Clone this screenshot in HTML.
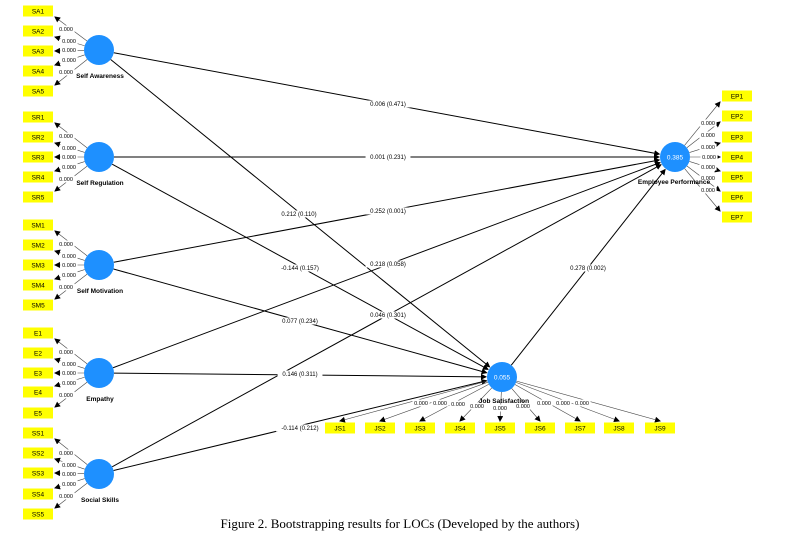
<!DOCTYPE html>
<html><head><meta charset="utf-8"><style>
html,body{margin:0;padding:0;background:#fff;width:809px;height:537px;overflow:hidden}
svg{display:block}
text{font-family:"Liberation Sans",sans-serif}
</style></head><body>
<svg id="s" width="809" height="537" viewBox="0 0 809 537" xmlns="http://www.w3.org/2000/svg">
<defs><marker id="a" markerWidth="6" markerHeight="6" refX="5" refY="3" orient="auto" markerUnits="userSpaceOnUse"><path d="M0,0 L6,3 L0,6 z" fill="#000"/></marker></defs>
<g id="g"></g>
<text x="400" y="528" text-anchor="middle" style="font-family:'Liberation Serif',serif;font-size:13px">Figure 2. Bootstrapping results for LOCs (Developed by the authors)</text>
</svg>
<script>
var g=document.getElementById('g'),h='';
function line(x1,y1,x2,y2,w,c,arrow){h+='<line x1="'+x1+'" y1="'+y1+'" x2="'+x2+'" y2="'+y2+'" stroke="'+c+'" stroke-width="'+w+'"'+(arrow?' marker-end="url(#a)"':'')+'/>';}
function txt(x,y,t,s,anc,col,b){h+='<text x="'+x+'" y="'+y+'" font-size="'+s+'" text-anchor="'+(anc||'middle')+'" fill="'+(col||'#000')+'"'+(b?' font-weight="bold"':'')+'>'+t+'</text>';}
function lab(x,y,t,s){s=s||6.5;var w=t.length*s*0.55+2;h+='<rect x="'+(x-w/2)+'" y="'+(y-3.5)+'" width="'+w+'" height="7" fill="#fff"/>';txt(x,y+2.2,t,s);}
function box(cx,cy,t,w){w=w||30;h+='<rect x="'+(cx-w/2)+'" y="'+(cy-5.5)+'" width="'+w+'" height="11" fill="#ffff00"/>';txt(cx,cy+2.5,t,6.5);}
var C=[[99,50,'Self Awareness','SA'],[99,157,'Self Regulation','SR'],[99,265,'Self Motivation','SM'],[99,373,'Empathy','E'],[99,474,'Social Skills','SS']];
var ys=[[11,31,51,71,91],[117,137,157,177,197],[225,245,265,285,305],[333,353,373,392,413],[433,453,473,494,514]];
var EP=[675,157],JS=[502,377],R=15;
function edge(a,b){var dx=b[0]-a[0],dy=b[1]-a[1],d=Math.hypot(dx,dy);line(a[0]+dx/d*R,a[1]+dy/d*R,b[0]-dx/d*(R+1),b[1]-dy/d*(R+1),1,'#000',1);}
var paths=[[0,EP,'0.006 (0.471)',388,104],[0,JS,'0.212 (0.110)',299,214],[1,EP,'0.001 (0.231)',388,157],[1,JS,'-0.144 (0.157)',300,268],[2,EP,'0.252 (0.001)',388,211],[2,JS,'0.077 (0.234)',300,321],[3,EP,'0.218 (0.058)',388,264],[3,JS,'0.146 (0.311)',300,374],[4,EP,'0.046 (0.301)',388,315],[4,JS,'-0.114 (0.212)',300,428]];
paths.forEach(function(p){edge(C[p[0]],p[1]);});
edge(JS,EP);
C.forEach(function(c,i){ys[i].forEach(function(y,j){var tx=55,ty=y+(j<2?6:j>2?-6:0);var dx=tx-c[0],dy=ty-c[1],d=Math.hypot(dx,dy);line(c[0]+R*dx/d,c[1]+R*dy/d,tx,ty,0.6,'#444',1);});});
var eys=[96,116,137,157,177,197,217];
eys.forEach(function(y,j){var tx=720,ty=y+(j<3?6:j>3?-6:0);var dx=tx-EP[0],dy=ty-EP[1],d=Math.hypot(dx,dy);line(EP[0]+R*dx/d,EP[1]+R*dy/d,tx,ty,0.6,'#444',1);});
var jxs=[340,380,420,460,500,540,580,619,660];
jxs.forEach(function(x){var dx=x-JS[0],dy=422-JS[1],d=Math.hypot(dx,dy);line(JS[0]+R*dx/d,JS[1]+R*dy/d,x,421,0.6,'#444',1);});
paths.forEach(function(p){lab(p[3],p[4],p[2],6);});
lab(588,268,'0.278 (0.002)',6);
C.concat([[EP[0],EP[1]],[JS[0],JS[1]]]).forEach(function(c){h+='<circle cx="'+c[0]+'" cy="'+c[1]+'" r="'+R+'" fill="#1e90ff"/>';});
txt(EP[0],EP[1]+2.5,'0.385',6.5,'middle','#fff');txt(JS[0],JS[1]+2.5,'0.055',6.5,'middle','#fff');
C.forEach(function(c,i){ys[i].forEach(function(y,j){box(38,y,c[3]+(j+1));});
 [[66,c[1]-21],[69,c[1]-9],[69,c[1]],[69,c[1]+10],[66,c[1]+22]].forEach(function(p){lab(p[0],p[1],'0.000',5.5);});
 txt(c[0]+1,c[1]+28,c[2],6.5,'middle','#000',1);});
eys.forEach(function(y,j){box(737,y,'EP'+(j+1));});
[[708,123],[708,135],[708,147],[709,157],[708,167],[708,178],[708,190]].forEach(function(p){lab(p[0],p[1],'0.000',5.5);});
txt(674,184,'Employee Performance',6.5,'middle','#000',1);
jxs.forEach(function(x,j){box(x,428,'JS'+(j+1));});
[[421,403],[440,403],[458,404],[477,406],[500,408],[523,406],[544,403],[563,403],[582,403]].forEach(function(p){lab(p[0],p[1],'0.000',5.5);});
txt(504,403,'Job Satisfaction',6.5,'middle','#000',1);
g.innerHTML=h;
</script>
</body></html>
